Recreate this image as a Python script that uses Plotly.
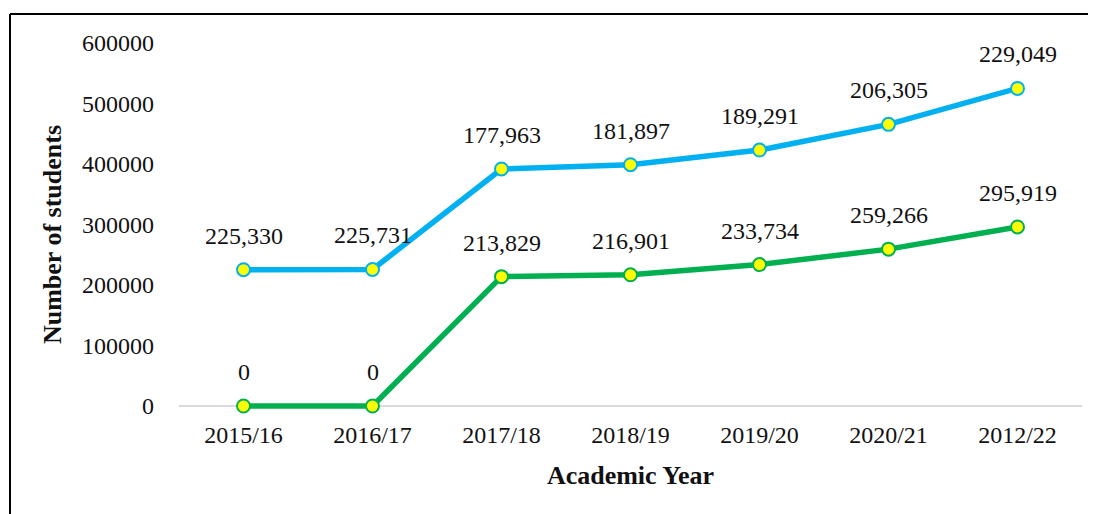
import plotly.graph_objects as go

years = ["2015/16", "2016/17", "2017/18", "2018/19", "2019/20", "2020/21", "2012/22"]
green_vals = [0, 0, 213829, 216901, 233734, 259266, 295919]
blue_vals = [225330, 225731, 177963, 181897, 189291, 206305, 229049]
y_ticks = [0, 100000, 200000, 300000, 400000, 500000, 600000]

blue_stacked = [g + b for g, b in zip(green_vals, blue_vals)]

OFF = 8  # page body offset
W, H = 1096 - OFF, 514 - OFF
PAD = 20  # px of empty range below zero so the line at 0 isn't clipped
ML, MR, MT, MB = 179 - OFF, 14, 43 - OFF, 108 - PAD
PW, PH = W - ML - MR, H - MT - MB
YMAX = 600000
YMIN = -YMAX * PAD / (PH - PAD)

FONT = "Liberation Serif"
GREEN = "#00B050"
BLUE = "#00B0F0"
FS = 24

fig = go.Figure()
fig.add_trace(go.Scatter(
    x=years, y=green_vals, mode="lines+markers",
    line=dict(color=GREEN, width=5.5),
    marker=dict(size=13, color="#FFFF00", line=dict(color=GREEN, width=2)),
    showlegend=False, cliponaxis=False))
fig.add_trace(go.Scatter(
    x=years, y=blue_stacked, mode="lines+markers",
    line=dict(color=BLUE, width=5.5),
    marker=dict(size=13, color="#FFFF00", line=dict(color=BLUE, width=2)),
    showlegend=False, cliponaxis=False))

ann = []
for x, y, v in zip(years, green_vals, green_vals):
    ann.append(dict(x=x, y=y, text=f"{v:,}", showarrow=False, yshift=34,
                    font=dict(family=FONT, size=FS, color="#111")))
for x, y, v in zip(years, blue_stacked, blue_vals):
    ann.append(dict(x=x, y=y, text=f"{v:,}", showarrow=False, yshift=34,
                    font=dict(family=FONT, size=FS, color="#111")))

# frame (left and top edges)
x0 = (10 - OFF - ML) / PW
x1 = (W + 10 - ML) / PW
ytop = (H - MB - (14 - OFF)) / PH
ybot = (H - MB - (H + 10)) / PH
shapes = [
    dict(type="line", xref="paper", yref="paper", x0=x0, x1=x0, y0=ybot, y1=ytop,
         line=dict(color="black", width=2)),
    dict(type="line", xref="paper", yref="paper", x0=x0, x1=x1, y0=ytop, y1=ytop,
         line=dict(color="black", width=2)),
]

fig.update_layout(
    width=W, height=H,
    margin=dict(l=ML, r=MR, t=MT, b=MB, autoexpand=False),
    plot_bgcolor="white", paper_bgcolor="white",
    font=dict(family=FONT, size=FS, color="#111"),
    annotations=ann, shapes=shapes,
    xaxis=dict(type="category", range=[-0.5, 6.5], showgrid=False,
               showline=False, zeroline=False, ticks="", automargin=False,
               ticklabelstandoff=12 - PAD,
               tickfont=dict(family=FONT, size=FS),
               title=dict(text="<b>Academic Year</b>", font=dict(family=FONT, size=26), standoff=18)),
    yaxis=dict(range=[YMIN, YMAX], tickvals=y_ticks, ticktext=[str(t) for t in y_ticks],
               showgrid=False, zeroline=True, zerolinecolor="#D9D9D9", zerolinewidth=2,
               showline=False, ticks="", ticklabelstandoff=24, automargin=False,
               tickfont=dict(family=FONT, size=FS),
               title=dict(text="<b>Number of students</b>", font=dict(family=FONT, size=26), standoff=12)),
)

fig.write_html("out.html")
